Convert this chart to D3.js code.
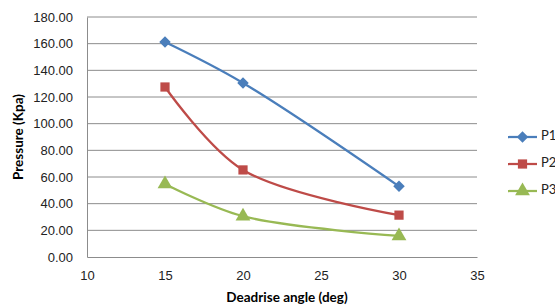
<!DOCTYPE html>
<html>
<head>
<meta charset="utf-8">
<script src="https://cdn.jsdelivr.net/npm/d3@7"></script>
<style>
  body { margin: 0; background: #fff; }
  svg { display: block; font-family: Lato, "Open Sans", sans-serif; }
</style>
</head>
<body>
<div id="chart"></div>
<script>
// chart data
const angles = [15, 20, 30];
const p1 = [161.2, 130.5, 53.0];
const p2 = [127.5, 65.3, 31.4];
const p3 = [54.8, 30.6, 15.8];
const seriesNames = ["P1", "P2", "P3"];
const xTicks = [10, 15, 20, 25, 30, 35];
const yTicks = [0, 20, 40, 60, 80, 100, 120, 140, 160, 180];

const W = 555, H = 308;
const margin = {top: 17, right: 78, bottom: 51, left: 87};
const width = W - margin.left - margin.right;
const height = H - margin.top - margin.bottom;

const svg = d3.select("#chart")
  .append("svg")
  .attr("width", W)
  .attr("height", H)
  .append("g")
  .attr("transform", `translate(${margin.left}, ${margin.top})`);

const xScale = d3.scaleLinear().domain([10, 35]).range([0, width]);
const yScale = d3.scaleLinear().domain([0, 180]).range([height, 0]);

const colors = ["#4a7ebb", "#be4b48", "#98b954"];
const symbols = [d3.symbolDiamond2, d3.symbolSquare, d3.symbolTriangle];
const symSizes = [85, 85, 95];

// gridlines
svg.append("g")
  .selectAll("line")
  .data(yTicks.slice(1))
  .enter()
  .append("line")
  .attr("x1", 0)
  .attr("x2", width)
  .attr("y1", d => yScale(d))
  .attr("y2", d => yScale(d))
  .attr("stroke", "#8c8c8c")
  .attr("stroke-width", 1);

// axes
const yAxis = d3.axisLeft(yScale).tickValues(yTicks).tickFormat(d3.format(".2f")).tickSize(0).tickPadding(14);
const xAxis = d3.axisBottom(xScale).tickValues(xTicks).tickSize(0).tickPadding(14);

svg.append("g").attr("class", "y-axis").call(yAxis);
svg.append("g").attr("class", "x-axis").attr("transform", `translate(0, ${height})`).call(xAxis);

svg.selectAll(".domain").attr("stroke", "#8c8c8c");
svg.selectAll(".tick text").attr("font-size", 13).attr("fill", "#222");

// axis titles
svg.append("text")
  .attr("transform", "rotate(-90)")
  .attr("x", -height / 2)
  .attr("y", -margin.left + 23)
  .style("text-anchor", "middle")
  .attr("font-size", 13.5)
  .attr("font-weight", "bold")
  .text("Pressure (Kpa)");

svg.append("text")
  .attr("x", width / 2 + 5)
  .attr("y", height + 45)
  .style("text-anchor", "middle")
  .attr("font-size", 13.5)
  .attr("font-weight", "bold")
  .text("Deadrise angle (deg)");

// series
const allSeries = [p1, p2, p3];
const line = d3.line()
  .x((d, i) => xScale(angles[i]))
  .y(d => yScale(d))
  .curve(d3.curveCatmullRom.alpha(0.5));

allSeries.forEach((vals, s) => {
  svg.append("path")
    .datum(vals)
    .attr("d", line)
    .attr("fill", "none")
    .attr("stroke", colors[s])
    .attr("stroke-width", 2.25);

  svg.selectAll(".m" + s)
    .data(vals)
    .enter()
    .append("path")
    .attr("class", "m" + s)
    .attr("d", d3.symbol().type(symbols[s]).size(symSizes[s]))
    .attr("transform", (d, i) => `translate(${xScale(angles[i])}, ${yScale(d)})`)
    .attr("fill", colors[s]);
});

// legend
const legend = svg.append("g").attr("transform", `translate(${width + 31}, 0)`);
seriesNames.forEach((name, i) => {
  const y = 120 + i * 27;
  legend.append("line")
    .attr("x1", 0).attr("x2", 29)
    .attr("y1", y).attr("y2", y)
    .attr("stroke", colors[i])
    .attr("stroke-width", 2.25);
  legend.append("path")
    .attr("d", d3.symbol().type(symbols[i]).size(symSizes[i]))
    .attr("transform", `translate(14.5, ${y})`)
    .attr("fill", colors[i]);
  legend.append("text")
    .attr("x", 33)
    .attr("y", y)
    .attr("font-size", 13)
    .attr("fill", "#222")
    .style("dominant-baseline", "middle")
    .text(name);
});
</script>
</body>
</html>
